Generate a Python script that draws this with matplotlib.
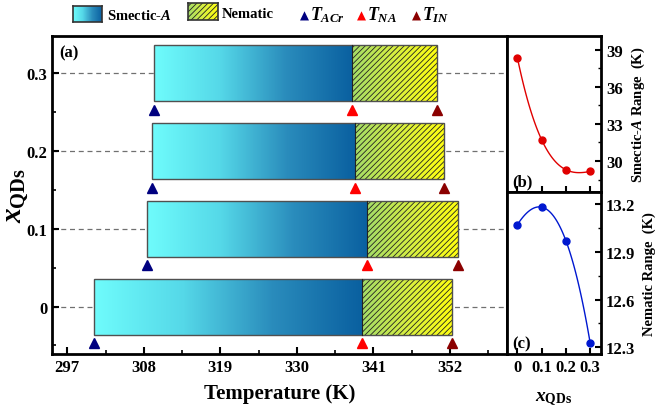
import numpy as np
import matplotlib.pyplot as plt
from matplotlib.colors import LinearSegmentedColormap
from matplotlib.patches import Rectangle
from matplotlib.ticker import MultipleLocator

plt.rcParams['font.family'] = ['Liberation Serif', 'DejaVu Serif']
plt.rcParams['font.weight'] = 'bold'
plt.rcParams['axes.labelweight'] = 'bold'
plt.rcParams['mathtext.fontset'] = 'custom'
plt.rcParams['mathtext.rm'] = 'Liberation Serif:bold'
plt.rcParams['mathtext.it'] = 'Liberation Serif:bold:italic'
plt.rcParams['mathtext.bf'] = 'Liberation Serif:bold'
plt.rcParams['hatch.linewidth'] = 0.6
plt.rcParams['xtick.direction'] = 'in'
plt.rcParams['ytick.direction'] = 'in'

# composition and transition temperatures (K)
x_qds = [0, 0.1, 0.2, 0.3]
T_ACr = [300.9, 308.4, 309.15, 309.5]
T_NA = [339.3, 340.1, 338.3, 337.9]
T_IN = [352.3, 353.2, 351.2, 350.2]

# phase ranges (K)
smA_range = [38.33, 31.72, 29.3, 29.16]
nem_range = [13.07, 13.18, 12.97, 12.33]

x_ticks = [297, 308, 319, 330, 341, 352]

smA_cmap = LinearSegmentedColormap.from_list('sma', ['#6ffcfc', '#55d8e8', '#2a8cbc', '#0a60a0'])
nem_cmap = LinearSegmentedColormap.from_list('nem', ['#a4dc68', '#d8f040', '#ffff10'])
grad = np.linspace(0, 1, 256).reshape(1, -1)

fig = plt.figure(figsize=(6.56, 4.10), dpi=100)
W, H = 656, 410


def px_axes(x0, y0, x1, y1):
    return fig.add_axes([x0 / W, 1 - y1 / H, (x1 - x0) / W, (y1 - y0) / H])


ax = px_axes(52, 37, 507, 355)
axb = px_axes(507, 37, 601, 193)
axc = px_axes(507, 193, 601, 355)

# (a) phase bars
h = 0.072
for y, t0, t1, t2 in zip(x_qds, T_ACr, T_NA, T_IN):
    ax.imshow(grad, extent=[t0, t1, y - h / 2, y + h / 2], aspect='auto',
              cmap=smA_cmap, zorder=2)
    ax.imshow(grad, extent=[t1, t2, y - h / 2, y + h / 2], aspect='auto',
              cmap=nem_cmap, zorder=2)
    ax.add_patch(Rectangle((t1, y - h / 2), t2 - t1, h, facecolor='none',
                           edgecolor='#222222', hatch='//////', lw=0, zorder=3))
    ax.add_patch(Rectangle((t0, y - h / 2), t2 - t0, h, facecolor='none',
                           edgecolor='#505050', lw=1.0, zorder=4))
    ax.plot([t1, t1], [y - h / 2, y + h / 2], color='#222222', lw=0.8, zorder=4)
    ym = y - 0.047
    ax.plot(t0, ym, '^', color='#000080', ms=7.5, zorder=5, clip_on=False)
    ax.plot(t1, ym, '^', color='#ff0000', ms=7.5, zorder=5, clip_on=False)
    ax.plot(t2, ym, '^', color='#8b0000', ms=7.5, zorder=5, clip_on=False)

ax.set_xlim(294.8, 360.2)
ax.set_ylim(-0.061, 0.348)
ax.set_xticks(x_ticks)
ax.xaxis.set_minor_locator(MultipleLocator(5.5))
ax.set_yticks(x_qds)
ax.set_yticklabels(['0', '0.1', '0.2', '0.3'])
ax.yaxis.set_minor_locator(MultipleLocator(0.05))
ax.grid(axis='y', which='major', ls=(0, (4, 3)), color='#707070', lw=0.9, zorder=0)
ax.tick_params(labelsize=12, width=1.5, length=5, right=False, top=False)
ax.tick_params(which='minor', width=1.2, length=3)
ax.set_xlabel('Temperature (K)', fontsize=15, labelpad=6)
ax.set_ylabel(r'$x_{\mathrm{QDs}}$', fontsize=21)
ax.yaxis.set_label_coords(-0.048, 0.5)
ax.text(0.015, 0.975, '(a)', transform=ax.transAxes, fontsize=12, va='top')
for s in ax.spines.values():
    s.set_linewidth(2)

# smooth curve through the four points
xs = np.linspace(0, 0.3, 100)
for a, vals, col in [(axb, smA_range, '#e00000'), (axc, nem_range, '#0018d0')]:
    coef = np.polyfit(x_qds, vals, 3)
    a.plot(xs, np.polyval(coef, xs), color=col, lw=1.0)
    a.plot(x_qds, vals, 'o', color=col, ms=5)
    a.set_xlim(-0.043, 0.345)
    a.set_xticks(x_qds)
    a.yaxis.tick_right()
    a.yaxis.set_label_position('right')
    a.tick_params(labelsize=12, width=1.5, length=4, left=False, right=True)
    a.tick_params(which='minor', width=1, length=2, left=False, right=True)
    for s in a.spines.values():
        s.set_linewidth(2)

axb.set_ylim(27.5, 40.1)
axb.set_yticks([30, 33, 36, 39])
axb.yaxis.set_minor_locator(MultipleLocator(1.5))
axb.tick_params(labelbottom=False)
axb.set_ylabel(r'Smectic-$\mathit{A}$ Range  (K)', fontsize=10.5, labelpad=5)
axb.text(0.06, 0.04, '(b)', transform=axb.transAxes, fontsize=12)

axc.set_ylim(12.258, 13.275)
axc.set_yticks([12.3, 12.6, 12.9, 13.2])
axc.yaxis.set_minor_locator(MultipleLocator(0.15))
axc.set_xticklabels(['0', '0.1', '0.2', '0.3'])
axc.set_ylabel('Nematic Range  (K)', fontsize=10.5, labelpad=5)
axc.set_xlabel(r'$x_{\mathrm{QDs}}$', fontsize=14, labelpad=11)
axc.text(0.06, 0.04, '(c)', transform=axc.transAxes, fontsize=12)

# legend across the top
la = px_axes(73, 7, 102, 23)
la.imshow(grad, extent=[0, 1, 0, 1], aspect='auto', cmap=smA_cmap)
lb = px_axes(188, 4, 218, 21)
lb.imshow(grad, extent=[0, 1, 0, 1], aspect='auto', cmap=nem_cmap)
lb.add_patch(Rectangle((0, 0), 1, 1, facecolor='none', edgecolor='#222222',
                       hatch='//////', lw=0))
for a in (la, lb):
    a.set_xlim(0, 1)
    a.set_ylim(0, 1)
    a.set_xticks([])
    a.set_yticks([])
    for s in a.spines.values():
        s.set_linewidth(1.2)
        s.set_color('#333333')

fig.text(107 / W, 1 - 16 / H, r'Smectic-$\mathit{A}$', fontsize=10.5, va='center')
fig.text(222 / W, 1 - 14 / H, 'Nematic', fontsize=10.5, va='center')
leg_items = [(304, '#000080', r'$T_{ACr}$'), (361, '#ff0000', r'$T_{NA}$'),
             (416, '#8b0000', r'$T_{IN}$')]
for xp, col, lab in leg_items:
    fig.text(xp / W, 1 - 16 / H, '\u25b2', color=col, fontsize=8.5, ha='center',
             va='center', family='DejaVu Sans')
    fig.text((xp + 6) / W, 1 - 15 / H, lab, fontsize=13, va='center')

fig.savefig('out.png', dpi=100)
